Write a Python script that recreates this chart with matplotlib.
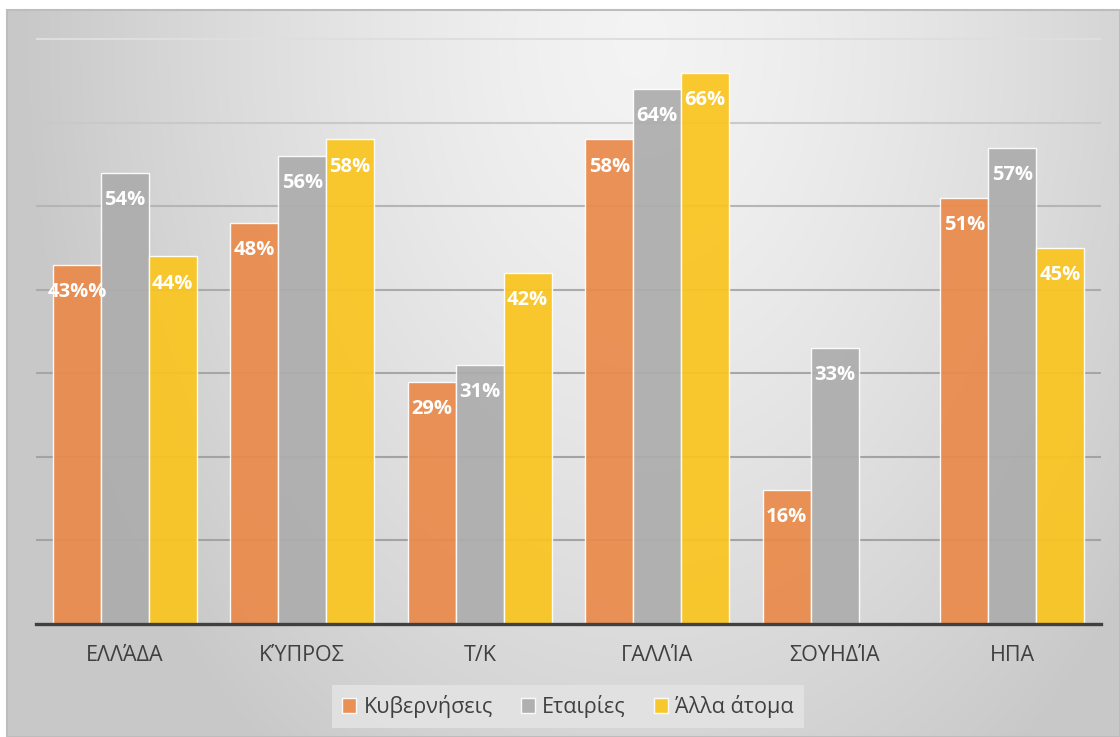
import numpy as np
import matplotlib
matplotlib.use("Agg")
import matplotlib.pyplot as plt
from matplotlib.patches import Rectangle

plt.rcParams['font.family'] = ['Open Sans', 'DejaVu Sans']

# data
countries = ['ΕΛΛΆΔΑ', 'ΚΎΠΡΟΣ', 'Τ/Κ', 'ΓΑΛΛΊΑ', 'ΣΟΥΗΔΊΑ', 'ΗΠΑ']
series = ['Κυβερνήσεις', 'Εταιρίες', 'Άλλα άτομα']
governments = [43, 48, 29, 58, 16, 51]
companies = [54, 56, 31, 64, 33, 57]
others = [44, 58, 42, 66, np.nan, 45]
gov_labels = ['43%%', '48%', '29%', '58%', '16%', '51%']
comp_labels = ['54%', '56%', '31%', '64%', '33%', '57%']
oth_labels = ['44%', '58%', '42%', '66%', '', '45%']

colors = ['#EA8A4B', '#ADADAD', '#FAC520']

W, H = 1120, 737
fig = plt.figure(figsize=(W / 100, H / 100), dpi=100)
fig.patch.set_facecolor('white')

# chart area background with soft radial gradient (flatter near the centre)
bg = fig.add_axes([7 / W, 0, 1 - 7 / W, (H - 10) / H], zorder=-10)
yy, xx = np.mgrid[10:H, 7:W]
d = np.sqrt(((xx - 640) / 620.0) ** 2 + ((yy - 40) / 900.0) ** 2)
shade = 0.955 - 0.17 * np.clip(d, 0, 1) ** 1.4
bg.imshow(np.dstack([shade] * 3), aspect='auto', extent=[0, 1, 0, 1])
bg.set_axis_off()
fig.patches.append(Rectangle((7 / W, 0), 1 - 7 / W, (H - 10) / H, transform=fig.transFigure,
                             fill=False, edgecolor='#bdbdbd', linewidth=1.5, zorder=-5))

ax = fig.add_axes([36 / W, 113 / H, 1065 / W, 614 / H])
ax.patch.set_alpha(0)

x = np.arange(len(countries))
bw = 0.27
data = [governments, companies, others]
labels = [gov_labels, comp_labels, oth_labels]
for i, (vals, labs) in enumerate(zip(data, labels)):
    pos = x + (i - 1) * bw
    ax.bar(pos, vals, width=bw, color=colors[i], alpha=0.93,
           edgecolor=(1, 1, 1, 0.35), linewidth=1.0, label=series[i], zorder=3)
    for p, v, t in zip(pos, vals, labs):
        if np.isnan(v) or not t:
            continue
        ax.annotate(t, (p, v), xytext=(0, -19.5), textcoords='offset points',
                    ha='center', va='center', color='white', fontsize=14.5,
                    fontweight='bold', zorder=5)

ax.set_xlim(-0.5, len(countries) - 0.5)
ax.set_ylim(0, 73.5)
ax.set_yticks(np.arange(10, 71, 10))
ax.set_yticklabels([])
ax.tick_params(axis='y', length=0)
ax.grid(axis='y', linewidth=1.5, zorder=1)
gl_cols = ['#a3a3a3', '#a3a3a3', '#a6a6a6', '#ababab', '#b5b5b5', '#c9c9c9', '#dedede']
for line, c in zip(ax.get_ygridlines(), gl_cols):
    line.set_color(c)

ax.set_xticks(x)
ax.set_xticklabels(countries, fontsize=15.5, color='#404040')
ax.tick_params(axis='x', length=0, pad=15)
for s in ['top', 'right', 'left']:
    ax.spines[s].set_visible(False)
ax.spines['bottom'].set_color('#404040')
ax.spines['bottom'].set_linewidth(2.4)
ax.spines['bottom'].set_zorder(6)

leg = fig.legend(loc='center', bbox_to_anchor=(568 / W, (H - 706.5) / H), ncol=3,
                 fontsize=15.5, frameon=True, fancybox=False, handlelength=0.65,
                 handleheight=0.65, handletextpad=0.35, columnspacing=1.3,
                 borderpad=0.45, labelcolor='#404040')
leg.get_frame().set_facecolor('#e3e3e3')
leg.get_frame().set_edgecolor('none')
leg.get_frame().set_alpha(0.9)

fig.savefig('out.png', dpi=100)
